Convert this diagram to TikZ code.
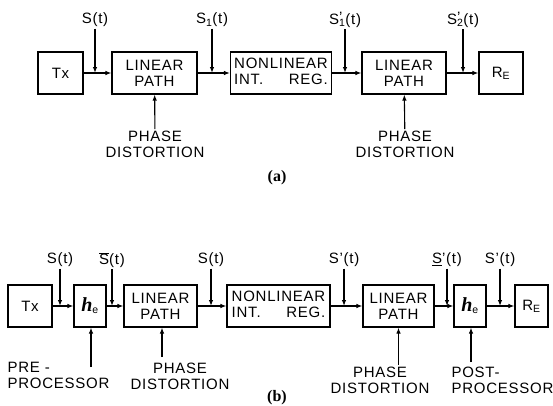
\documentclass[tikz,border=0pt]{standalone}
\usepackage{fontspec}
\setmainfont{Liberation Sans}[LetterSpace=5]
\newfontfamily\capfont{Liberation Serif}
\usetikzlibrary{arrows.meta}

\begin{document}
\begin{tikzpicture}[x=1pt,y=-1pt,line width=1.1pt,
  every node/.style={font=\fontsize{15}{16}\selectfont},
  blk/.style={draw,minimum height=42pt,inner sep=1pt,align=center},
  sig/.style={-{Latex[length=6pt,width=4.5pt]}},
  lbl/.style={inner sep=1pt}]
\useasboundingbox (0,0) rectangle (553,405);

% (a)
\node[blk,minimum width=45pt] (txa) at (60.5,73) {Tx};
\node[blk,minimum width=85pt] (lpa1) at (154.5,73) {LINEAR\\PATH};
\node[blk,minimum width=101pt] (nla) at (281,73) {\begin{tabular}{@{}l@{}}NONLINEAR\\INT.\hfill REG.\end{tabular}};
\node[blk,minimum width=84pt] (lpa2) at (404,73) {LINEAR\\PATH};
\node[blk,minimum width=44pt] (rea) at (501,73) {R\textsubscript{E}};
\draw[sig] (txa) -- (lpa1);
\draw[sig] (lpa1) -- (nla);
\draw[sig] (nla) -- (lpa2);
\draw[sig] (lpa2) -- (rea);

\node[lbl] (sa1) at (95,20) {S(t)};
\node[lbl] (sa2) at (212,20) {S\textsubscript{1}(t)};
\node[lbl] (sa3) at (345,20) {S\rlap{\raisebox{0.2ex}{'}}\textsubscript{1}(t)};
\node[lbl] (sa4) at (463,20) {S\rlap{\raisebox{0.2ex}{'}}\textsubscript{2}(t)};
\coordinate (ia1) at (95,73);
\coordinate (ia2) at (212,73);
\coordinate (ia3) at (345,73);
\coordinate (ia4) at (463,73);
\draw[sig] (sa1) -- (ia1);
\draw[sig] (sa2) -- (ia2);
\draw[sig] (sa3) -- (ia3);
\draw[sig] (sa4) -- (ia4);

\node[lbl,align=center] (pda1) at (155,144) {PHASE\\DISTORTION};
\node[lbl,align=center] (pda2) at (405,144) {PHASE\\DISTORTION};
\draw[sig] (pda1) -- (lpa1);
\draw[sig] (pda2) -- (lpa2);

\node (capa) at (277,178) {\capfont\bfseries\fontsize{16}{16}\selectfont (a)};

% (b)
\node[blk,minimum width=44pt] (txb) at (30,306) {Tx};
\node[blk,minimum width=32pt] (heb1) at (90,306) {{\capfont\itshape\bfseries\fontsize{20}{20}\selectfont h}\textsubscript{e}};
\node[blk,minimum width=73pt] (lpb1) at (160.5,306) {LINEAR\\PATH};
\node[blk,minimum width=103pt] (nlb) at (278.5,306) {\begin{tabular}{@{}l@{}}NONLINEAR\\INT.\hfill REG.\end{tabular}};
\node[blk,minimum width=71pt] (lpb2) at (398.5,306) {LINEAR\\PATH};
\node[blk,minimum width=32pt] (heb2) at (470,306) {{\capfont\itshape\bfseries\fontsize{20}{20}\selectfont h}\textsubscript{e}};
\node[blk,minimum width=33pt] (reb) at (531.5,306) {R\textsubscript{E}};
\draw[sig] (txb) -- (heb1);
\draw[sig] (heb1) -- (lpb1);
\draw[sig] (lpb1) -- (nlb);
\draw[sig] (nlb) -- (lpb2);
\draw[sig] (lpb2) -- (heb2);
\draw[sig] (heb2) -- (reb);

\node[lbl] (sb1) at (60,260) {S(t)};
\node[lbl] (sb2) at (112,260) {$\overline{\mbox{S}}$(t)};
\node[lbl] (sb3) at (211,260) {S(t)};
\node[lbl] (sb4) at (344,260) {S'(t)};
\node[lbl] (sb5) at (447,260) {\underline{S}'(t)};
\node[lbl] (sb6) at (500,260) {S'(t)};
\coordinate (ib1) at (60,306);
\coordinate (ib2) at (112,306);
\coordinate (ib3) at (211,306);
\coordinate (ib4) at (344,306);
\coordinate (ib5) at (447,306);
\coordinate (ib6) at (500,306);
\draw[sig] (sb1) -- (ib1);
\draw[sig] (sb2) -- (ib2);
\draw[sig] (sb3) -- (ib3);
\draw[sig] (sb4) -- (ib4);
\draw[sig] (sb5) -- (ib5);
\draw[sig] (sb6) -- (ib6);

\node[lbl,align=left,anchor=west] (preb) at (6,375) {PRE -\\PROCESSOR};
\node[lbl,align=center] (pdb1) at (180,376) {PHASE\\DISTORTION};
\node[lbl,align=center] (pdb2) at (380,380) {PHASE\\DISTORTION};
\node[lbl,align=left,anchor=west,inner sep=0pt] (postb) at (451,380) {POST-\\PROCESSOR};
\coordinate (prefoot) at (91,367);
\coordinate (pdfoot) at (162,357);
\coordinate (postfoot) at (471,362);
\draw[sig] (prefoot) -- (prefoot |- heb1.south);
\draw[sig] (pdfoot) -- (pdfoot |- lpb1.south);
\draw[sig] (lpb2.south |- pdb2.north) -- (lpb2.south);
\draw[sig] (postfoot) -- (postfoot |- heb2.south);

\node (capb) at (277,398) {\capfont\bfseries\fontsize{16}{16}\selectfont (b)};
\end{tikzpicture}
\end{document}
